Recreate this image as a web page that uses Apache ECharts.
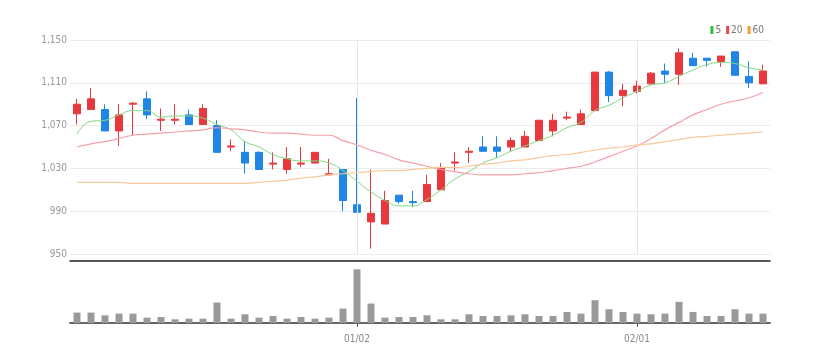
<!DOCTYPE html>
<html>
<head>
<meta charset="utf-8">
<script src="https://cdn.jsdelivr.net/npm/echarts@6/dist/echarts.min.js"></script>
<style>html,body{margin:0;padding:0;background:#fff}#c{width:821px;height:363px}</style>
</head>
<body>
<div id="c"></div>
<script>
const dates = ['12/02','12/05','12/06','12/07','12/08','12/09','12/12','12/13','12/14','12/15','12/16','12/19','12/20','12/21','12/22','12/23','12/26','12/27','12/28','12/29',
'01/02','01/03','01/04','01/05','01/06','01/09','01/10','01/11','01/12','01/13','01/16','01/17','01/18','01/19','01/20','01/25','01/26','01/27','01/30','01/31',
'02/01','02/02','02/03','02/06','02/07','02/08','02/09','02/10','02/13','02/14'];
const tickLabels = ['01/02','02/01'];
// [open, close, low, high]
const candles = [
[1081,1090,1071,1095],[1085,1095,1085,1105],[1085,1065,1065,1090],[1065,1080,1051,1090],[1090,1091,1061,1092],
[1095,1080,1076,1102],[1075,1076,1065,1086],[1075,1076,1071,1090],[1080,1071,1071,1085],[1071,1086,1071,1090],
[1070,1045,1045,1075],[1050,1051,1046,1057],[1045,1035,1025,1055],[1045,1029,1029,1046],[1034,1035,1029,1045],
[1029,1039,1025,1050],[1034,1035,1031,1050],[1035,1045,1035,1045],[1024,1025,1024,1039],[1029,1000,990,1029],
[996,989,989,1096],[980,988,955,1029],[978,1000,978,1009],[1005,999,997,1005],[999,998,994,1009],
[999,1015,999,1024],[1010,1030,1010,1035],[1035,1036,1028,1045],[1045,1046,1035,1050],[1050,1046,1046,1060],
[1050,1046,1040,1060],[1050,1056,1046,1059],[1050,1060,1050,1065],[1056,1075,1056,1075],[1065,1075,1060,1081],
[1077,1078,1075,1083],[1071,1081,1071,1085],[1084,1120,1084,1120],[1120,1098,1092,1121],[1098,1103,1088,1109],
[1102,1107,1100,1112],[1109,1119,1109,1120],[1121,1118,1110,1128],[1118,1138,1108,1142],[1133,1126,1126,1138],
[1133,1131,1125,1133],[1130,1135,1125,1135],[1139,1117,1117,1139],[1116,1110,1105,1130],[1109,1121,1109,1127]];
const ma5 = [1062,1074,1075,1080,1084,1084,1078,1079,1079,1077,1071,1066,1055,1050,1043,1039,1037,1037,1035,1028,
1018,1008,1000,995,995,1001,1010,1020,1027,1035,1040,1046,1051,1056,1061,1068,1073,1084,1089,1096,
1102,1108,1110,1116,1122,1127,1129,1128,1124,1122];
const ma20 = [1050,1053,1055,1058,1061,1062,1063,1064,1065,1066,1068,1067,1066,1064,1063,1063,1062,1061,1061,1056,
1052,1047,1043,1038,1035,1032,1029,1027,1025,1024,1024,1024,1025,1026,1028,1030,1032,1036,1041,1046,
1051,1058,1066,1073,1080,1085,1090,1093,1096,1101];
const ma60 = [1017,1017,1017,1017,1016,1016,1016,1016,1016,1016,1016,1016,1016,1017,1018,1019,1021,1022,1024,1025,
1026,1027,1028,1028,1029,1030,1031,1031,1032,1034,1035,1037,1038,1040,1042,1043,1045,1047,1049,1050,
1052,1053,1055,1057,1059,1060,1061,1062,1063,1064];
const volumes = [31,31,23,28,28,16,18,11,13,13,61,13,26,16,21,13,18,13,16,43,
160,58,16,18,18,23,11,11,26,21,21,23,26,21,21,33,28,68,41,33,
28,26,28,63,33,21,21,41,28,28];
const yTicks = {min:950, max:1150, interval:40};

const FONT = "'Liberation Sans Narrow','DejaVu Sans Condensed',sans-serif";
const RED = '#e8383d', BLUE = '#1f85e6';
const showTick = (i, v) => tickLabels.indexOf(v) >= 0;

const chart = echarts.init(document.getElementById('c'));
chart.setOption({
  animation: false,
  backgroundColor: '#fff',
  legend: {
    data: [
      {name:'5', itemStyle:{color:'#2fbf3f'}},
      {name:'20', itemStyle:{color:'#ee4550'}},
      {name:'60', itemStyle:{color:'#f59a34'}}
    ],
    right: 52, top: 20, icon: 'rect', itemWidth: 3, itemHeight: 8, itemGap: 5,
    textStyle: {fontSize: 10, color: '#777', fontFamily: FONT, padding: [0,0,0,-3]}
  },
  grid: [
    {left: 70, right: 51, top: 40, height: 214},
    {left: 70, right: 51, top: 266, height: 57}
  ],
  xAxis: [
    {type:'category', data: dates, gridIndex:0, boundaryGap:true, offset: 7,
     axisLine:{show:true, lineStyle:{color:'#222', width:1.5}},
     axisTick:{show:false}, axisLabel:{show:false}, splitLine:{show:false}},
    {type:'category', data: dates, gridIndex:1, boundaryGap:true,
     axisLine:{show:true, lineStyle:{color:'#666', width:2}},
     axisTick:{show:true, alignWithLabel:true, interval: showTick, length:4, lineStyle:{color:'#555'}},
     axisLabel:{interval: showTick, color:'#888', fontSize:10, fontFamily: FONT, margin:11},
     splitLine:{show:false}}
  ],
  yAxis: [
    {type:'value', gridIndex:0, min:yTicks.min, max:yTicks.max, interval:yTicks.interval,
     axisLine:{show:false}, axisTick:{show:false},
     axisLabel:{color:'#999', fontSize:10, fontFamily: FONT, margin:3,
       formatter: v => v.toLocaleString('en-US')},
     splitLine:{lineStyle:{color:'#ececec'}}},
    {type:'value', gridIndex:1, min:0, max:170, show:false, splitLine:{show:false}}
  ],
  series: [
    {name:'candle', type:'candlestick', xAxisIndex:0, yAxisIndex:0, data: candles, barWidth:'50%',
     itemStyle:{color:RED, color0:BLUE, borderColor:RED, borderColor0:BLUE, borderWidth:1},
     markLine:{silent:true, symbol:['none','none'], label:{show:false},
       lineStyle:{color:'#e6e6e6', width:1, type:'solid'},
       data: tickLabels.map(t => ({xAxis: t}))}},
    {name:'5', type:'line', data: ma5, smooth:true, showSymbol:false, symbol:'none',
     lineStyle:{color:'#7fd67f', width:1}, itemStyle:{color:'#2fbf3f'}, z:3},
    {name:'20', type:'line', data: ma20, smooth:true, showSymbol:false, symbol:'none',
     lineStyle:{color:'#f5a0a8', width:1.2}, itemStyle:{color:'#ee4550'}, z:3},
    {name:'60', type:'line', data: ma60, smooth:true, showSymbol:false, symbol:'none',
     lineStyle:{color:'#f7c99a', width:1.2}, itemStyle:{color:'#f59a34'}, z:3},
    {name:'vol', type:'bar', xAxisIndex:1, yAxisIndex:1, data: volumes, barWidth:'50%',
     itemStyle:{color:'#9a9a9a'}}
  ]
});
</script>
</body>
</html>
